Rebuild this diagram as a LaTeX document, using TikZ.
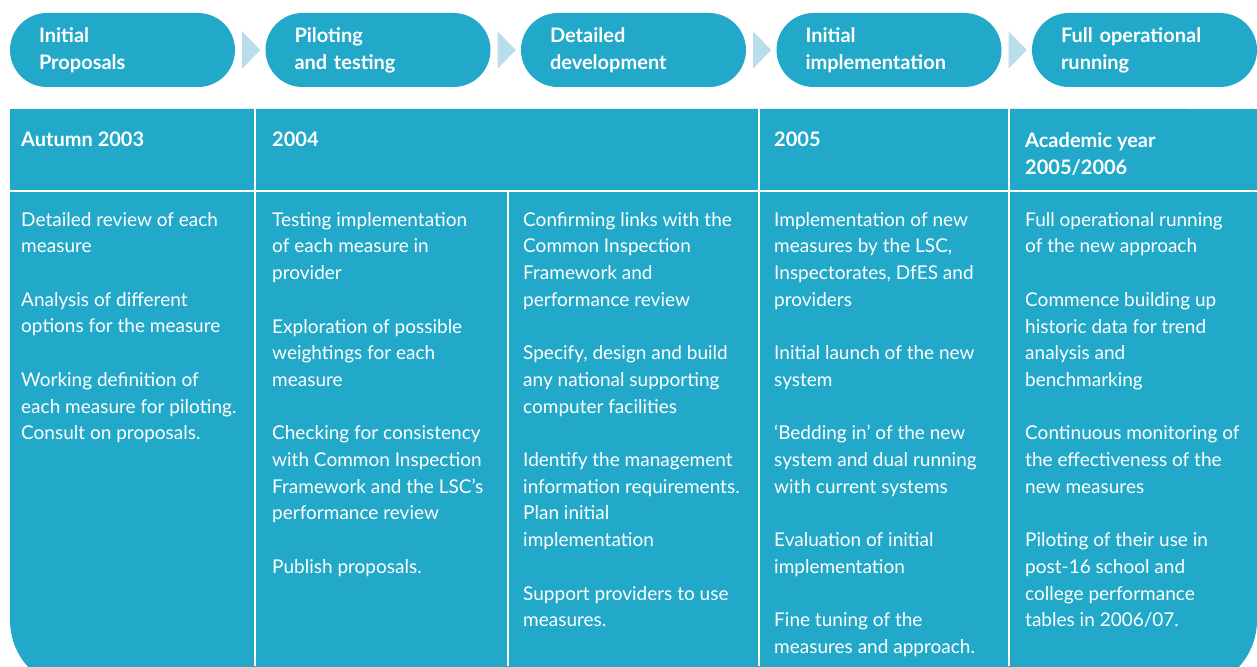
\documentclass[tikz,border=0pt]{standalone}
\usepackage{fontspec}
\setmainfont{Lato}
\usetikzlibrary{calc}
\usetikzlibrary{positioning}
\definecolor{lscblue}{HTML}{22A8C8}
\definecolor{lscpale}{HTML}{B9DEEB}
\newcommand{\gap}{\\[26.7pt]}

\begin{document}
\begin{tikzpicture}[
		x=1pt, y=-1pt,
		stage/.style = {rectangle, rounded corners=37pt, fill=lscblue, text=white, font=\bfseries\fontsize{20}{27}\selectfont, minimum width=225pt, minimum height=74pt, text width=167pt, align=left, inner sep=0pt},
		chev/.style = {fill=lscpale},
		head/.style = {anchor=north west, text=white, font=\bfseries\fontsize{20}{27}\selectfont, align=left, inner sep=0pt},
		body/.style = {anchor=north west, text=white, font=\fontsize{19}{26.7}\selectfont, align=left, inner sep=0pt},
		rule/.style = {white, line width=1.3pt}
		]
		
		\useasboundingbox (0,0) rectangle (1257,666);
		\clip (0,0) rectangle (1257,666);
		
		%Stages
		\node[stage]	(p1)	at	(122.5, 50)	{Initial\\Proposals};
		\node[stage]	(p2)	at	(378, 50)	{Piloting\\and testing};
		\node[stage]	(p3)	at	(633.5, 50)	{Detailed\\development};
		\node[stage]	(p4)	at	(889, 50)	{Initial\\implementation};
		\node[stage]	(p5)	at	(1144.5, 50)	{Full operational\\running};
		
		%Chevrons
		\fill[chev]	($(p1.east)+(7,-18.5)$) -- ($(p1.east)+(7,18.5)$) -- ($(p2.west)+(-5,0)$) -- cycle;
		\fill[chev]	($(p2.east)+(7,-18.5)$) -- ($(p2.east)+(7,18.5)$) -- ($(p3.west)+(-5,0)$) -- cycle;
		\fill[chev]	($(p3.east)+(7,-18.5)$) -- ($(p3.east)+(7,18.5)$) -- ($(p4.west)+(-5,0)$) -- cycle;
		\fill[chev]	($(p4.east)+(7,-18.5)$) -- ($(p4.east)+(7,18.5)$) -- ($(p5.west)+(-5,0)$) -- cycle;
		
		%Table
		\fill[lscblue, rounded corners=70pt]	(10, 109) rectangle (1257, 690);
		\fill[lscblue]	(10, 109) rectangle (1257, 200);
		\draw[rule]	(10, 191) -- (1257, 191);
		\draw[rule]	(255, 109) -- (255, 666);
		\draw[rule]	(508, 191) -- (508, 666);
		\draw[rule]	(759, 109) -- (759, 666);
		\draw[rule]	(1009, 109) -- (1009, 666);
		
		%Headings
		\node[head]	(h1)	at	(21, 132)	{Autumn 2003};
		\node[head]	(h2)	at	(272, 132)	{2004};
		\node[head]	(h3)	at	(774, 132)	{2005};
		\node[head]	(h4)	at	(1025, 132)	{Academic year\\2005/2006};
		
		%Columns
		\node[body]	(c1)	at	(21, 212)	{Detailed review of each\\measure\gap
			Analysis of different\\options for the measure\gap
			Working definition of\\each measure for piloting.\\Consult on proposals.};
		\node[body]	(c2)	at	(272, 212)	{Testing implementation\\of each measure in\\provider\gap
			Exploration of possible\\weightings for each\\measure\gap
			Checking for consistency\\with Common Inspection\\Framework and the LSC's\\performance review\gap
			Publish proposals.};
		\node[body]	(c3)	at	(523, 212)	{Confirming links with the\\Common Inspection\\Framework and\\performance review\gap
			Specify, design and build\\any national supporting\\computer facilities\gap
			Identify the management\\information requirements.\\Plan initial\\implementation\gap
			Support providers to use\\measures.};
		\node[body]	(c4)	at	(774, 212)	{Implementation of new\\measures by the LSC,\\Inspectorates, DfES and\\providers\gap
			Initial launch of the new\\system\gap
			`Bedding in' of the new\\system and dual running\\with current systems\gap
			Evaluation of initial\\implementation\gap
			Fine tuning of the\\measures and approach.};
		\node[body]	(c5)	at	(1025, 212)	{Full operational running\\of the new approach\gap
			Commence building up\\historic data for trend\\analysis and\\benchmarking\gap
			Continuous monitoring of\\the effectiveness of the\\new measures\gap
			Piloting of their use in\\post-16 school and\\college performance\\tables in 2006/07.};
	\end{tikzpicture}
\end{document}
